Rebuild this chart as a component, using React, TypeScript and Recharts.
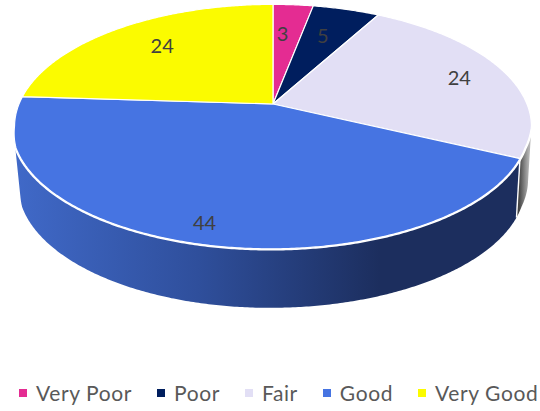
import React from "react";
import { PieChart, Pie, Legend } from "recharts";

const categories = ["Very Poor", "Poor", "Fair", "Good", "Very Good"];
const values = [3, 5, 24, 44, 24];
const topColors = ["#E42C92", "#001E5E", "#E2DFF5", "#4674E2", "#FBFB00"];
const wallFills = ["#9c1f66", "#00143f", "url(#wallFair)", "url(#wallGood)", "#a8a800"];
const chartData = categories.map((name, i) => ({ name, value: values[i], fill: topColors[i] }));

type Pt = { x: number; y: number };

// Perspective of the tilted disc (unit circle -> screen)
const AX = 273, AY = 104, SX = 254, A = 98.8, C = -0.185;
const project = (theta: number, r = 1): Pt => {
  const t = (theta * Math.PI) / 180;
  const u = r * Math.sin(t), v = -r * Math.cos(t);
  const d = 1 + C * v;
  const y = (AY + A * v) / d;
  const shear = 2.5 * Math.min(1, Math.max(0, (y - 126) / 22));
  return { x: AX + (SX * u) / d - shear, y };
};
const lower = (p: Pt): Pt => ({
  x: 269 + (p.x > 270 ? 0.99 : 0.972) * (p.x - 270),
  y: p.y + 59,
});
const rim = (props: any): Pt[] => {
  const a = 90 - props.startAngle, b = 90 - props.endAngle;
  const n = Math.max(2, Math.ceil(Math.abs(b - a) * 2));
  return Array.from({ length: n + 1 }, (_, i) => project(a + ((b - a) * i) / n));
};
const toD = (pts: Pt[], close = true) =>
  "M" + pts.map((p) => `${p.x.toFixed(2)},${p.y.toFixed(2)}`).join("L") + (close ? "Z" : "");
const area = (q: Pt[]) =>
  q.reduce((s, p, i) => {
    const n = q[(i + 1) % q.length];
    return s + p.x * n.y - n.x * p.y;
  }, 0);

const TopSlice = (props: any) => {
  const pts = rim(props);
  return <path d={toD([{ x: AX, y: AY }, ...pts])} fill={props.fill} stroke="#fff" strokeWidth={1.2} strokeLinejoin="round" />;
};
const WallSlice = (props: any) => {
  const pts = rim(props);
  const f = wallFills[props.index ?? categories.indexOf(props.name)];
  // the wall is the union of small strips swept from the rim down to the lower rim
  const strips = pts.slice(1).map((p, i) => {
    const q = [pts[i], p, lower(p), lower(pts[i])];
    return toD(area(q) < 0 ? q.reverse() : q);
  });
  return (
    <g>
      <path d={strips.join("")} fill={f} fillRule="nonzero" stroke="none" />
      <path d={toD([pts[0], lower(pts[0])], false)} stroke="#fff" strokeWidth={1.4} fill="none" />
      <path d={toD(pts, false)} fill="none" stroke="#fff" strokeWidth={3.4} />
    </g>
  );
};

const labelShift = [
  { r: 0.685, dx: -5 },
  { r: 0.7, dx: -4 },
  { r: 0.78, dx: 6 },
  { r: 0.869, dx: -1 },
  { r: 0.76, dx: 9 },
];
const ValueLabel = (props: any) => {
  const s = labelShift[props.index];
  const p = project(90 - props.midAngle, s.r);
  return (
    <text x={p.x + s.dx} y={p.y} textAnchor="middle" dominantBaseline="central" fill="#404040"
      fontFamily="Lato" fontSize={20}>
      {props.value}
    </text>
  );
};

const LegendRow = (props: any) => {
  const seen = new Set<string>();
  const items = (props.payload ?? []).filter((e: any) => {
    if (seen.has(e.value)) return false;
    seen.add(e.value);
    return true;
  });
  return (
    <div style={{ display: "flex", alignItems: "center", fontFamily: "Lato", fontSize: 21, color: "#595959", letterSpacing: 0.6, whiteSpace: "nowrap" }}>
      {items.map((e: any) => (
        <span key={e.value} style={{ display: "flex", alignItems: "center", marginRight: 25 }}>
          <span style={{ width: 8, height: 8, background: e.color, marginRight: 9, display: "inline-block" }} />
          {e.value}
        </span>
      ))}
    </div>
  );
};

export default function App() {
  return (
    <div style={{ position: "absolute", left: 0, top: 0, width: 540, height: 411, background: "#fff" }}>
      <PieChart width={540} height={411} margin={{ top: 0, right: 0, bottom: 0, left: 0 }}>
        <defs>
          <linearGradient id="wallGood" gradientUnits="userSpaceOnUse" x1="15" y1="0" x2="380" y2="0">
            <stop offset="0" stopColor="#4069C8" />
            <stop offset="0.5" stopColor="#2F4F9C" />
            <stop offset="1" stopColor="#1C2E5E" />
          </linearGradient>
          <linearGradient id="wallFair" gradientUnits="userSpaceOnUse" x1="519" y1="0" x2="529" y2="0">
            <stop offset="0" stopColor="#444444" />
            <stop offset="0.6" stopColor="#8a8a8a" />
            <stop offset="1" stopColor="#b5b5b5" />
          </linearGradient>
        </defs>
        <Pie data={chartData} dataKey="value" nameKey="name" cx={273} cy={104} outerRadius={100}
          startAngle={90} endAngle={-270} isAnimationActive={false} legendType="none"
          shape={WallSlice} label={false} labelLine={false} />
        <Pie data={chartData} dataKey="value" nameKey="name" cx={273} cy={104} outerRadius={100}
          startAngle={90} endAngle={-270} isAnimationActive={false} legendType="square"
          shape={TopSlice} label={ValueLabel} labelLine={false} />
        <Legend content={LegendRow} itemSorter={null} wrapperStyle={{ position: "absolute", left: 19, top: 380, width: 530, bottom: "auto" }} />
      </PieChart>
    </div>
  );
}
